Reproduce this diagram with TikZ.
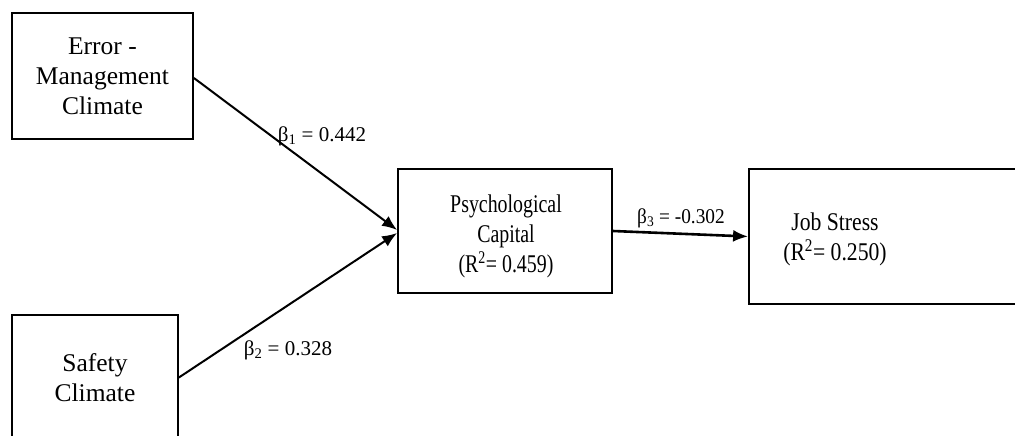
\documentclass[tikz,border=0pt]{standalone}
\usepackage{fontspec}
\setmainfont{Liberation Serif}
\newfontfamily\serifnarrow[FakeStretch=0.78]{Liberation Serif}
\newfontfamily\serifmid[FakeStretch=0.85]{Liberation Serif}
\newfontfamily\seriflab[FakeStretch=0.92]{Liberation Serif}
\usetikzlibrary{arrows.meta}
\tikzset{
  box/.style={draw, line width=1.8pt, rectangle, inner sep=0pt, align=center,
              font=\fontsize{25.5}{30}\selectfont},
  boxtext/.style={inner sep=0pt, align=center},
  path/.style={line width=2pt, -{Latex[length=15pt,width=12pt]}},
  coef/.style={inner sep=0pt, font=\fontsize{21}{23}\selectfont}
}
\begin{document}
\begin{tikzpicture}[x=1pt,y=-1pt]
\useasboundingbox (0,0) rectangle (1015,436);
\clip (0,0) rectangle (1015,436);
\node[box, minimum width=181pt, minimum height=126pt] (emc) at (102.5,76) {Error -\\Management\\Climate};
\node[box, minimum width=166pt, minimum height=125pt] (sc) at (95,377.5) {Safety\\Climate};
\node[box, minimum width=214pt, minimum height=124pt] (pc) at (505,231) {};
\node[boxtext, font=\serifnarrow\fontsize{25.5}{30}\selectfont] (pct) at (506,236) {Psychological\\Capital\\(R\textsuperscript{2}= 0.459)};
\node[box, minimum width=291pt, minimum height=135pt] (js) at (894.5,236.5) {};
\node[boxtext, font=\serifmid\fontsize{25.5}{30}\selectfont] (jst) at (835,239) {Job Stress\\(R\textsuperscript{2}= 0.250)};
\draw[path] ([yshift=-2pt]emc.east) -- ([yshift=1pt]pc.west);
\draw[path] (sc.east) -- ([yshift=-2pt]pc.west);
\draw[path, line width=2.6pt] (pc.east) -- (js.west);
\node[coef] (b1) at (322,136) {β\textsubscript{1} = 0.442};
\node[coef] (b2) at (288,350) {β\textsubscript{2} = 0.328};
\node[coef, font=\seriflab\fontsize{21}{23}\selectfont] (b3) at (681,218) {β\textsubscript{3} = -0.302};
\end{tikzpicture}
\end{document}
